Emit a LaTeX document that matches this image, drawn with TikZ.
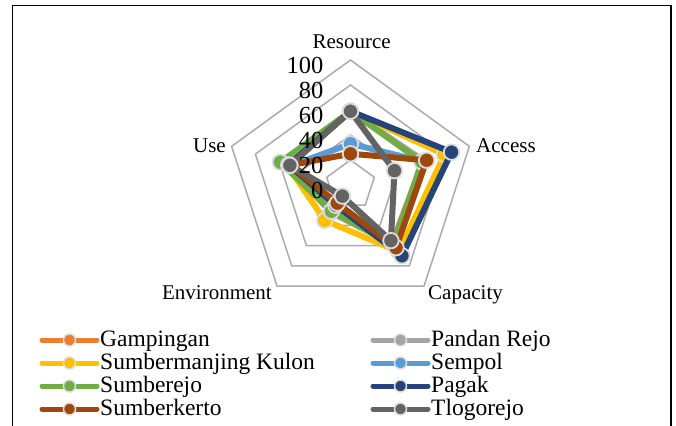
\documentclass[tikz,border=0pt]{standalone}
\usepackage{fontspec}
\setmainfont{Liberation Serif}
\usetikzlibrary{calc}

\definecolor{cGamp}{HTML}{ED7D31}
\definecolor{cPand}{HTML}{A5A5A5}
\definecolor{cSumk}{HTML}{FFC000}
\definecolor{cSemp}{HTML}{5B9BD5}
\definecolor{cSumj}{HTML}{70AD47}
\definecolor{cPaga}{HTML}{264478}
\definecolor{cSumt}{HTML}{9E480E}
\definecolor{cTlog}{HTML}{636363}
\definecolor{grelha}{HTML}{ABABAB}
\definecolor{anel}{HTML}{DCDCDC}

\tikzset{
  grade/.style={draw=grelha, line width=1.5pt, line join=miter},
  serie/.style={line width=6pt, line join=round, line cap=round},
  marca/.style={circle, draw=anel, line width=1.8pt, inner sep=0pt, minimum size=15.5pt},
  legmarca/.style={circle, draw=anel, line width=1.5pt, inner sep=0pt, minimum size=12pt},
  eixo/.style={font=\fontsize{21}{21}\selectfont, inner sep=0pt},
  escala/.style={font=\fontsize{24.5}{24.5}\selectfont, inner sep=0pt, anchor=east},
  legtexto/.style={font=\fontsize{23.5}{23.5}\selectfont, inner sep=0pt, anchor=base west}
}

\begin{document}
\begin{tikzpicture}[x=1pt,y=1pt]
        \useasboundingbox (0,-425) rectangle (676,0);

        % moldura
        \draw[line width=1.8pt] (12.5,-440) -- (12.5,-5.5) -- (671,-5.5) -- (671,-440);

        \begin{scope}[shift={(350.5,-185)}]
            \coordinate (O) at (0,0);

            % pentagonos da grelha
            \foreach \r in {20,40,...,100}
                \draw[grade] (90:{1.25*\r}) -- (18:{1.25*\r}) -- (-54:{1.25*\r})
                    -- (-126:{1.25*\r}) -- (162:{1.25*\r}) -- cycle;

            % eixos
            \node[eixo, anchor=base] (res) at (1.2,136.5) {Resource};
            \node[eixo, anchor=base west] (acc) at (125.5,33) {Access};
            \node[eixo, anchor=base west] (cap) at (77.5,-114) {Capacity};
            \node[eixo, anchor=base east] (env) at (-78.5,-114) {Environment};
            \node[eixo, anchor=base east] (use) at (-124.5,33) {Use};

            % series
            \foreach \nome/\cor/\ra/\ac/\ca/\en/\us in {
                gamp/cGamp/59/61/57/24/52,
                pand/cPand/59/62/59/27/52,
                sumk/cSumk/59/79/66/35/54,
                semp/cSemp/33/61/58/23/50,
                sumj/cSumj/59/60/59/26/59,
                paga/cPaga/59/85/70/20/52,
                sumt/cSumt/25/64/62/18/51,
                tlog/cTlog/59/37/55/11/51}
            {
                \foreach \ang/\v [count=\k] in {90/\ra,18/\ac,-54/\ca,-126/\en,162/\us}
                    \coordinate (\nome\k) at (\ang:{1.25*\v});
                \draw[serie, draw=\cor] (\nome1) -- (\nome2) -- (\nome3) -- (\nome4) -- (\nome5) -- cycle;
                \foreach \k in {1,...,5}
                    \node[marca, fill=\cor] (m\nome\k) at (\nome\k) {};
            }

            % escala (por cima das series)
            \foreach \v [count=\k] in {0,20,...,100}
                \node[escala] (esc\k) at (-27,{1.25*\v-5}) {\v};
        \end{scope}

        % legenda
        \foreach \cor/\txt/\lx/\ly [count=\k] in {
            cGamp/Gampingan/42/340,
            cSumk/Sumbermanjing Kulon/42/363,
            cSumj/Sumberejo/42/386,
            cSumt/Sumberkerto/42/409,
            cPand/Pandan Rejo/373/340,
            cSemp/Sempol/373/363,
            cPaga/Pagak/373/386,
            cTlog/Tlogorejo/373/409}
        {
            \coordinate (la\k) at (\lx,-\ly);
            \coordinate (lb\k) at ($(la\k)+(55,0)$);
            \draw[serie, line width=5pt, draw=\cor] (la\k) -- (lb\k);
            \node[legmarca, fill=\cor] (lm\k) at ($(la\k)!0.5!(lb\k)$) {};
            \node[legtexto] (leg\k) at ($(lb\k)+(3,-6.5)$) {\txt};
        }
    \end{tikzpicture}
\end{document}
